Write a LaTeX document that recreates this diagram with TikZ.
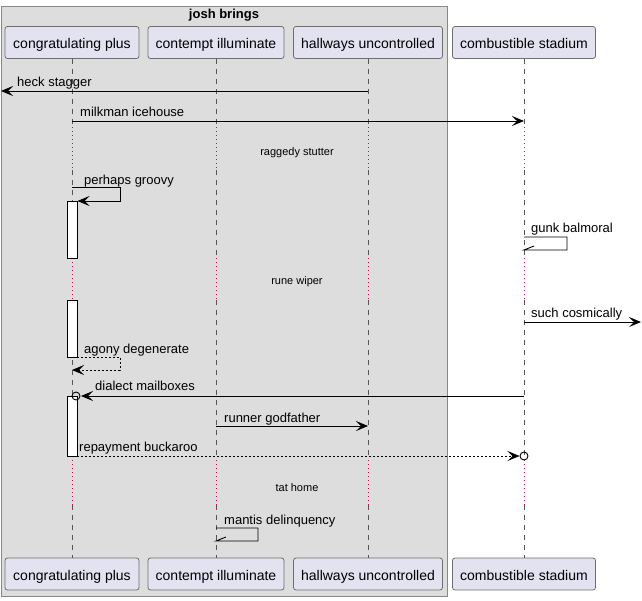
\documentclass[tikz,border=0pt]{standalone}
\usepackage{fontspec}
\setmainfont{Liberation Sans}
\usetikzlibrary{arrows.meta}
\definecolor{grpf}{HTML}{DDDDDD}
\definecolor{grpb}{HTML}{888888}
\definecolor{partf}{HTML}{E2E2F0}
\definecolor{partb}{HTML}{6E6E6E}
\definecolor{lifec}{HTML}{555555}
\definecolor{delayc}{HTML}{C0154A}
\tikzset{
 part/.style={draw=partb, fill=partf, rounded corners=2.5pt, minimum height=32pt, inner sep=0pt, line width=0.8pt, text height=13pt, text depth=1pt, font=\fontsize{14}{16}\selectfont},
 life/.style={draw=lifec, dash pattern=on 5pt off 5pt, line width=0.7pt},
 delayline/.style={draw=delayc, dash pattern=on 1pt off 3pt, line width=0.8pt},
 msg/.style={draw=black, line width=0.9pt, -{Stealth[length=12pt,width=10pt,inset=5pt]}},
 rmsg/.style={msg, dash pattern=on 2pt off 2pt},
 plain/.style={draw=black, line width=0.9pt},
 lbl/.style={font=\fontsize{13}{15}\selectfont, anchor=base west, inner sep=0pt},
 dlbl/.style={font=\fontsize{11}{13}\selectfont, inner sep=0pt},
 actbar/.style={draw=black, fill=white, line width=0.9pt},
}
\begin{document}
\begin{tikzpicture}[x=1pt,y=-1pt]
\useasboundingbox (0,0) rectangle (642,600);
% group
\draw[fill=grpf, draw=grpb, line width=1pt] (1,6) rectangle (447,596);
\node[font=\bfseries\fontsize{13}{15}\selectfont, inner sep=0pt] (title) at (224,15.5) {josh brings};
% participants
\node[part, minimum width=134pt] (t1) at (72,42.5) {congratulating plus};
\node[part, minimum width=136pt] (t2) at (216,42.5) {contempt illuminate};
\node[part, minimum width=149pt] (t3) at (368,42.5) {hallways uncontrolled};
\node[part, minimum width=143pt] (t4) at (524,42.5) {combustible stadium};
\node[part, minimum width=134pt] (b1) at (72,574) {congratulating plus};
\node[part, minimum width=136pt] (b2) at (216,574) {contempt illuminate};
\node[part, minimum width=149pt] (b3) at (368,574) {hallways uncontrolled};
\node[part, minimum width=143pt] (b4) at (524,574) {combustible stadium};
% lifelines
\foreach \i in {1,2,3,4}{
  \draw[life] (t\i.south) -- (t\i |- 0,127);
  \draw[delayline] (t\i |- 0,127) -- (t\i |- 0,170);
  \draw[life] (t\i |- 0,170) -- (t\i |- 0,258);
  \draw[delayline] (t\i |- 0,258) -- (t\i |- 0,300);
  \draw[life] (t\i |- 0,300) -- (t\i |- 0,460);
  \draw[delayline] (t\i |- 0,460) -- (t\i |- 0,505);
  \draw[life] (t\i |- 0,505) -- (b\i.north);
}
% delays
\node[dlbl] (d1) at (297,152.5) {raggedy stutter};
\node[dlbl] (d2) at (297,281.5) {rune wiper};
\node[dlbl] (d3) at (297,487.5) {tat home};
% activations
\draw[actbar] (67,201) rectangle (77,258);
\draw[actbar] (67,300) rectangle (77,357);
\draw[actbar] (67,396) rectangle (77,456);
% messages
\coordinate (lefte) at (1,91);
\draw[msg] (t3 |- 0,91) -- (lefte);
\node[lbl] (l1) at (17,86) {heck stagger};
\draw[msg] (t1 |- 0,121) -- (t4 |- 0,121);
\node[lbl] (l2) at (80,116.5) {milkman icehouse};
\draw[msg] (t1 |- 0,187) -- (120,187) -- (120,201) -- (77.5,201);
\node[lbl] (l3) at (84,184.5) {perhaps groovy};
\draw[plain] (t4 |- 0,237) -- (567,237) -- (567,250) -- (t4 |- 0,250) -- (534,246);
\node[lbl] (l4) at (531,232.5) {gunk balmoral};
\coordinate (righte) at (641,322);
\draw[msg] (t4 |- 0,322) -- (righte);
\node[lbl] (l5) at (531,317.5) {such cosmically};
\draw[rmsg] (77,357) -- (120,357) -- (120,370) -- (t1 |- 0,370);
\node[lbl] (l6) at (84,353.5) {agony degenerate};
\draw[msg] (t4 |- 0,396) -- (81,396);
\draw[plain] (76,396) circle[radius=4pt];
\node[lbl] (l7) at (95,390.5) {dialect mailboxes};
\draw[msg] (t2 |- 0,426) -- (t3 |- 0,426);
\node[lbl] (l8) at (224,422) {runner godfather};
\draw[rmsg] (77,456) -- (519.5,456);
\draw[plain] (t4 |- 0,456) circle[radius=4pt];
\node[lbl] (l9) at (79,451.5) {repayment buckaroo};
\draw[plain] (t2 |- 0,528) -- (258,528) -- (258,541) -- (t2 |- 0,541) -- (226,537);
\node[lbl] (l10) at (224,524.5) {mantis delinquency};
\end{tikzpicture}
\end{document}
